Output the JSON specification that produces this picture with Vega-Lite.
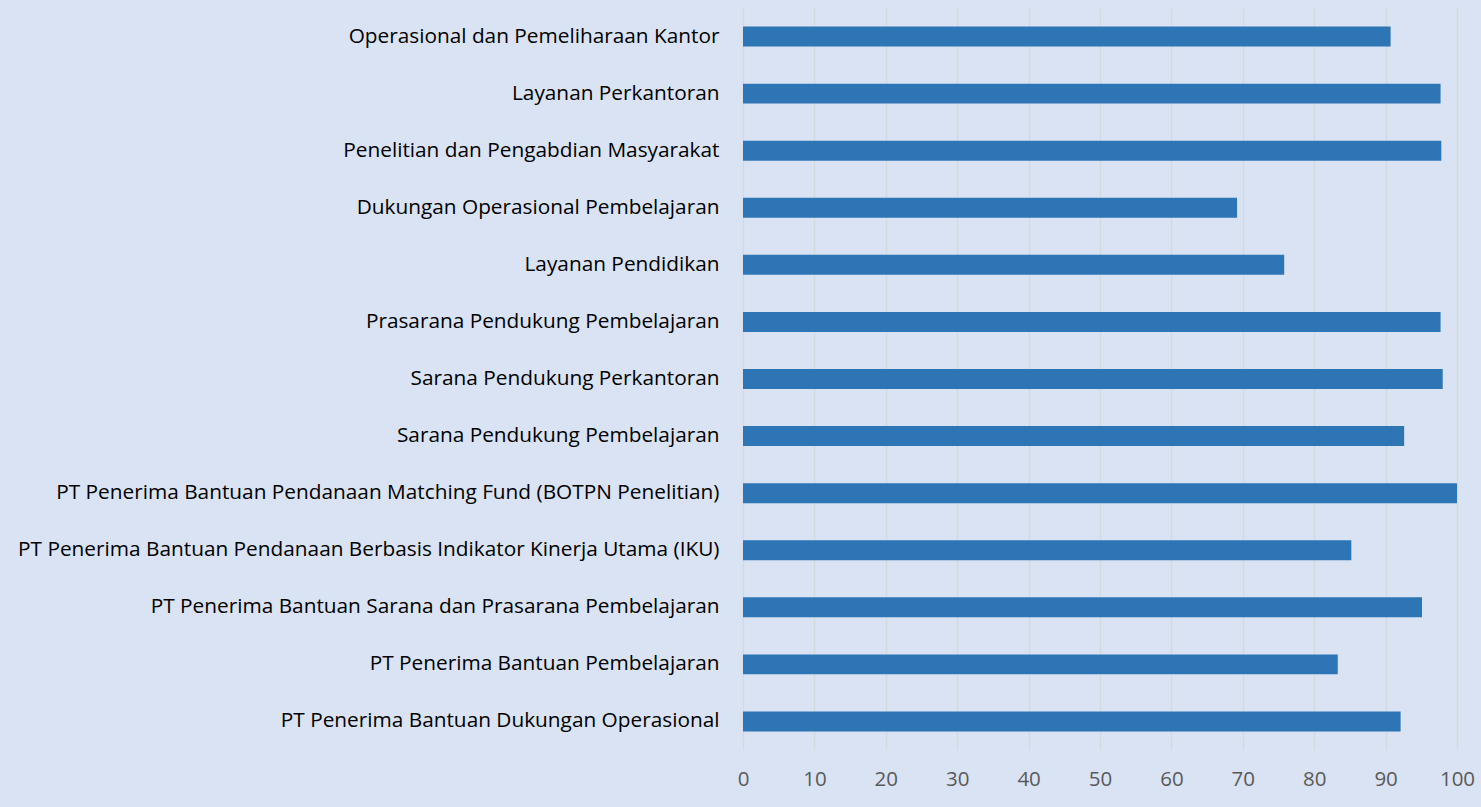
{
  "$schema": "https://vega.github.io/schema/vega-lite/v6.json",
  "autosize": {"type": "none"},
  "padding": {"left": 743, "top": 8, "right": 24, "bottom": 57},
  "width": 714,
  "height": 742,
  "background": "#DAE3F3",
  "config": {"view": {"stroke": null}},
  "data": {"values": [
    {"kategori": "Operasional dan Pemeliharaan Kantor", "nilai": 90.7},
    {"kategori": "Layanan Perkantoran", "nilai": 97.7},
    {"kategori": "Penelitian dan Pengabdian Masyarakat", "nilai": 97.8},
    {"kategori": "Dukungan Operasional Pembelajaran", "nilai": 69.2},
    {"kategori": "Layanan Pendidikan", "nilai": 75.8},
    {"kategori": "Prasarana Pendukung Pembelajaran", "nilai": 97.7},
    {"kategori": "Sarana Pendukung Perkantoran", "nilai": 98.0},
    {"kategori": "Sarana Pendukung Pembelajaran", "nilai": 92.6},
    {"kategori": "PT Penerima Bantuan Pendanaan Matching Fund (BOTPN Penelitian)", "nilai": 100},
    {"kategori": "PT Penerima Bantuan Pendanaan Berbasis Indikator Kinerja Utama (IKU)", "nilai": 85.2},
    {"kategori": "PT Penerima Bantuan Sarana dan Prasarana Pembelajaran", "nilai": 95.1},
    {"kategori": "PT Penerima Bantuan Pembelajaran", "nilai": 83.3},
    {"kategori": "PT Penerima Bantuan Dukungan Operasional", "nilai": 92.1}
  ]},
  "mark": {"type": "bar", "color": "#2E75B6"},
  "encoding": {
    "y": {
      "field": "kategori",
      "type": "nominal",
      "sort": null,
      "title": null,
      "scale": {"paddingInner": 0.65, "paddingOuter": 0.325},
      "axis": {
        "domain": false,
        "ticks": false,
        "grid": false,
        "labelFont": "Open Sans",
        "labelFontSize": 20.8,
        "labelColor": "#000000",
        "labelPadding": 24,
        "labelLimit": 0
      }
    },
    "x": {
      "field": "nilai",
      "type": "quantitative",
      "title": null,
      "scale": {"domain": [0, 100], "nice": false},
      "axis": {
        "values": [0, 10, 20, 30, 40, 50, 60, 70, 80, 90, 100],
        "domain": false,
        "ticks": false,
        "grid": true,
        "gridColor": "#D4D9E0",
        "gridWidth": 1.5,
        "labelFont": "Open Sans",
        "labelFontSize": 20.5,
        "labelColor": "#595959",
        "labelPadding": 19,
        "labelFlush": false
      }
    }
  }
}
